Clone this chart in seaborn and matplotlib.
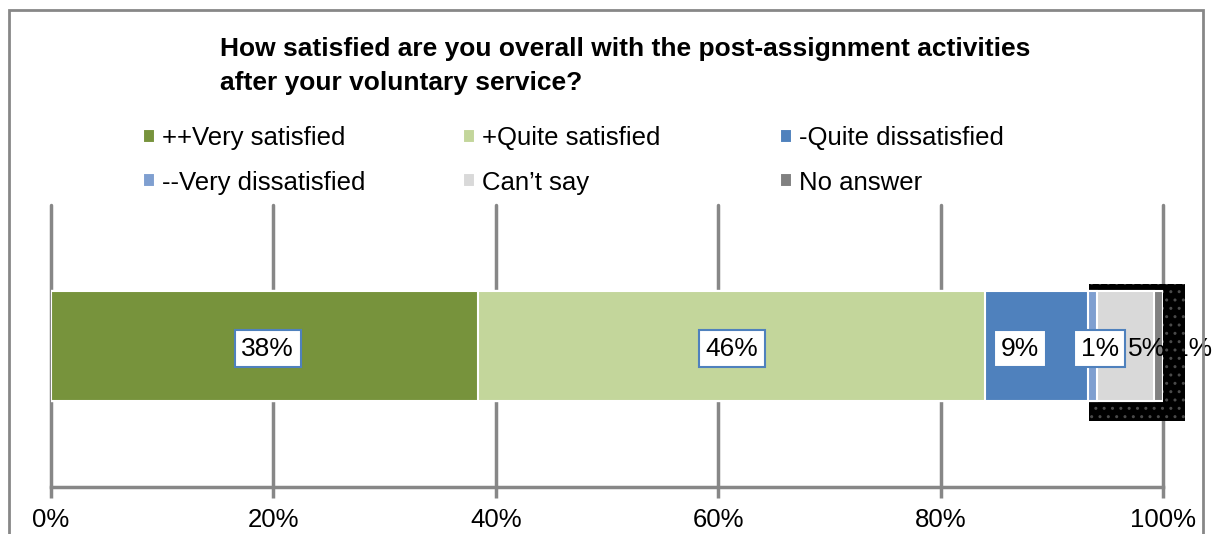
import matplotlib
matplotlib.use("Agg")
import matplotlib.pyplot as plt
from matplotlib.patches import Rectangle
from matplotlib.transforms import blended_transform_factory
import pandas as pd
import seaborn as sns

# Survey answers and their shares of respondents (%)
categories = ["++Very satisfied", "+Quite satisfied", "-Quite dissatisfied",
              "--Very dissatisfied", "Can\u2019t say", "No answer"]
shares = [38.4, 45.6, 9.3, 0.8, 5.1, 0.8]
colors = ["#77933C", "#C3D69B", "#4F81BD", "#7F9FD0", "#D9D9D9", "#808080"]
tick_values = [0, 20, 40, 60, 80, 100]
tick_labels = ["0%", "20%", "40%", "60%", "80%", "100%"]
question = ("How satisfied are you overall with the post-assignment activities\n"
            "after your voluntary service?")

# label placement relative to each segment's centre (data units)
label_shift = [0.3, 0.0, -1.5, 0.6, 1.9, 3.1]
boxed = [True, True, True, True, False, False]

sns.set_theme(style="white")
plt.rcParams["font.family"] = ["Liberation Sans", "DejaVu Sans"]
plt.rcParams["text.color"] = "black"
plt.rcParams["xtick.labelcolor"] = "black"

W, H = 1213, 534
fig = plt.figure(figsize=(W / 100, H / 100), dpi=100)
ax = fig.add_axes([51 / W, 1 - 487 / H, (1163 - 51) / W, (487 - 205) / H])

df = pd.DataFrame({"answer": categories, "share": shares, "row": "all"})
df["end"] = df["share"].cumsum()
df["start"] = df["end"] - df["share"]

# stacked bar: draw cumulative totals from the widest to the narrowest
for i in reversed(range(len(df))):
    sns.barplot(data=df.iloc[[i]], x="end", y="row", orient="h",
                color=colors[i], saturation=1, width=0.39,
                edgecolor="white", linewidth=1.5, label=categories[i],
                ax=ax, zorder=3)
if ax.get_legend() is not None:
    ax.get_legend().remove()

ax.set_xlim(0, 100)
ax.set_ylim(0.5, -0.5)
ax.set_xticks(tick_values)
ax.set_xticklabels(tick_labels)
ax.set_yticks([])
ax.set_xlabel("")
ax.set_ylabel("")

grid_col = "#878787"
ax.xaxis.grid(True, color=grid_col, linewidth=2.5)
for gl in ax.get_xgridlines():
    gl.set_clip_on(False)
ax.set_axisbelow(True)
for side in ["top", "left", "right"]:
    ax.spines[side].set_visible(False)
ax.spines["bottom"].set_color(grid_col)
ax.spines["bottom"].set_linewidth(2.5)
ax.tick_params(axis="x", bottom=True, direction="out", length=8, width=2.5,
               color=grid_col, labelsize=18.5, pad=7, labelcolor="black")

# dark backdrop behind the small trailing segments
mixed = blended_transform_factory(ax.transData, ax.transAxes)
ax.add_patch(Rectangle((93.35, 0.234), 102.0 - 93.35, 0.72 - 0.234,
                       transform=mixed, clip_on=False, facecolor="black",
                       edgecolor="#4a4a4a", hatch="..", linewidth=0, zorder=2))

# value labels
for i, row in df.iterrows():
    cx = (row["start"] + row["end"]) / 2 + label_shift[i]
    txt = f"{row['share']:.0f}%"
    kw = dict(ha="center", va="center", fontsize=19, color="black", zorder=5)
    if boxed[i]:
        kw["bbox"] = dict(boxstyle="square,pad=0.25", fc="white",
                          ec="#4F81BD", lw=1.5)
    if i == len(df) - 1:
        kw["zorder"] = 1.5
    ax.text(cx, 0.01, txt, **kw)

# legend: three columns of two entries each
handles, labels = ax.get_legend_handles_labels()
lookup = dict(zip(labels, handles))
col_x = [143, 463, 780]
for c in range(3):
    names = [categories[c], categories[c + 3]]
    fig.legend([lookup[n] for n in names], names, loc="upper left",
               bbox_to_anchor=(col_x[c] / W, 1 - 126 / H),
               bbox_transform=fig.transFigure, frameon=False, borderpad=0,
               borderaxespad=0, handlelength=0.45, handleheight=0.45,
               handletextpad=0.3, labelspacing=0.8, fontsize=18.5)

fig.text(220 / W, 1 - 37 / H, question, ha="left", va="top", fontsize=19,
         fontweight="bold", linespacing=1.55)

# chart frame
fig.patches.append(Rectangle((9 / W, -0.1), (1203 - 9) / W, 1.1 - 10 / H,
                             transform=fig.transFigure, fill=False,
                             edgecolor=grid_col, linewidth=2))

fig.savefig("out.png", dpi=100)
